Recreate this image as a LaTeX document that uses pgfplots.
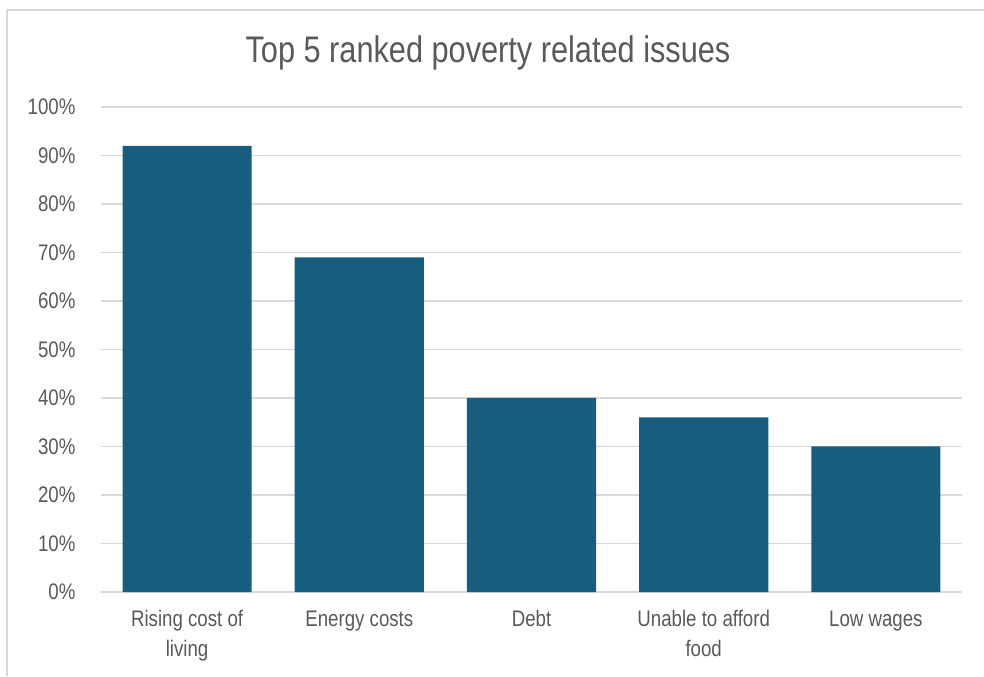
\documentclass[border=0pt]{standalone}
\usepackage{fontspec}
\setmainfont{Liberation Sans}[FakeStretch=0.83]
\usepackage{pgfplots}
\pgfplotsset{compat=1.18}
\definecolor{barblue}{RGB}{23,94,126}
\definecolor{txtgray}{RGB}{89,89,89}
\definecolor{gridgray}{RGB}{217,217,217}
\begin{document}
\begin{tikzpicture}
\begin{axis}[
  scale only axis,
  width=861bp, height=485bp,
  xmin=-0.5, xmax=4.5,
  ymin=0, ymax=100,
  xtick=data,
  xticklabels={Rising cost of\\living, Energy costs, Debt, Unable to afford\\food, Low wages},
  ytick={0,10,...,100},
  yticklabel={\pgfmathprintnumber{\tick}\%},
  /pgf/number format/assume math mode=true,
  ymajorgrids,
  grid style={gridgray, line width=1.3bp},
  axis line style={draw=none},
  major tick length=0pt,
  tick label style={font=\fontsize{22.5bp}{30bp}\selectfont, text=txtgray},
  yticklabel style={anchor=east, xshift=-22bp},
  xticklabel style={align=center, anchor=north, yshift=-15bp},
  ybar, bar width=0.75,
]
\addplot[fill=barblue, draw=none] coordinates {(0,92) (1,69) (2,40) (3,36) (4,30)};
\end{axis}
\node[anchor=base, text=txtgray, font=\fontsize{37bp}{42bp}\selectfont] at ([shift={(-43.5bp,44bp)}]current axis.north) {Top 5 ranked poverty related issues};
\draw[gridgray, line width=1.2bp] ([shift={(-94bp,-84.3bp)}]current axis.south west) -- ([shift={(-94bp,97bp)}]current axis.north west) -- ([shift={(22bp,97bp)}]current axis.north east);
\pgfresetboundingbox
\path[use as bounding box] ([shift={(-101bp,-84.3bp)}]current axis.south west) rectangle ([shift={(22bp,107bp)}]current axis.north east);
\end{tikzpicture}
\end{document}
